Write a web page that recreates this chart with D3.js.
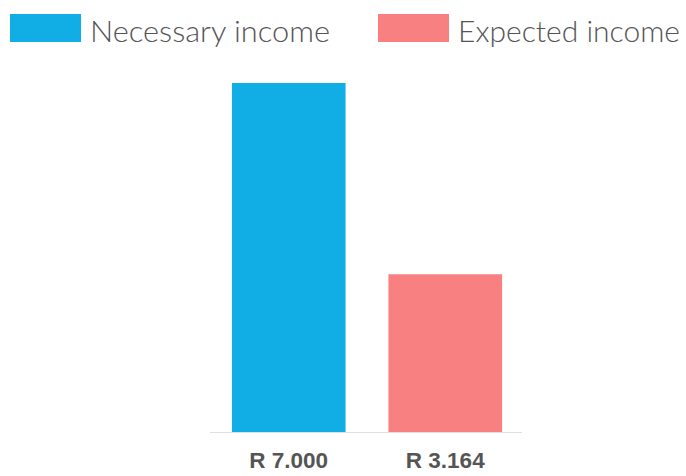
<!DOCTYPE html>
<html><head><meta charset="utf-8">
<script src="https://cdn.jsdelivr.net/npm/d3@7"></script>
<style>html,body{margin:0;padding:0;background:#fff;}</style>
</head><body>
<script>
const categories = ["Necessary income", "Expected income"];
const values = [7000, 3164];
const valueLabels = ["R 7.000", "R 3.164"];
const colors = ["#10AEE4", "#F88080"];

const W = 686, H = 476;
const svg = d3.select("body").append("svg").attr("width", W).attr("height", H);

const x = d3.scaleBand().domain(categories).range([210, 524]).paddingInner(0.274).paddingOuter(0.14);
const y = d3.scaleLinear().domain([0, 7000]).range([432, 83]);

svg.append("line").attr("x1", 210).attr("x2", 522).attr("y1", 432.5).attr("y2", 432.5)
  .attr("stroke", "#e0e0e0").attr("stroke-width", 1);

svg.selectAll("rect.bar").data(categories).enter().append("rect").attr("class", "bar")
  .attr("x", d => x(d)).attr("width", x.bandwidth())
  .attr("y", (d, i) => y(values[i])).attr("height", (d, i) => y(0) - y(values[i]))
  .attr("fill", (d, i) => colors[i]);

svg.selectAll("text.val").data(categories).enter().append("text").attr("class", "val")
  .attr("x", d => x(d) + x.bandwidth() / 2).attr("y", 468)
  .attr("text-anchor", "middle")
  .attr("font-family", "Liberation Sans, Arial, sans-serif").attr("font-weight", "bold")
  .attr("font-size", 22.5).attr("fill", "#555")
  .text((d, i) => valueLabels[i]);

// legend
const legX = [10, 378];
const legTextW = [240, 222];
const lg = svg.selectAll("g.leg").data(categories).enter().append("g").attr("class", "leg")
  .attr("transform", (d, i) => `translate(${legX[i]},0)`);
lg.append("rect").attr("x", 0).attr("y", 14).attr("width", 71).attr("height", 28)
  .attr("fill", (d, i) => colors[i]);
lg.append("text").attr("x", 80).attr("y", 41.5)
  .attr("font-family", "Lato, sans-serif").attr("font-weight", 300)
  .attr("font-size", 30).attr("fill", "#555")
  .attr("textLength", (d, i) => legTextW[i]).attr("lengthAdjust", "spacingAndGlyphs")
  .text(d => d);
</script>
</body></html>
